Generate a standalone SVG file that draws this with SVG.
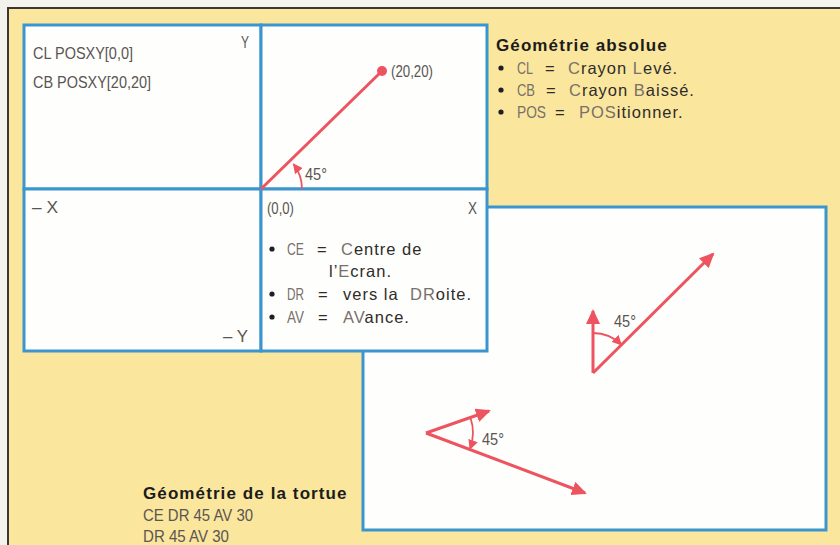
<svg xmlns="http://www.w3.org/2000/svg" width="840" height="545" viewBox="0 0 840 545">
<style>
.box{fill:#fefefc;stroke:#3b96cf;stroke-width:3}
.lbl{font-family:"Liberation Sans",Arial,sans-serif;font-size:16.5px;fill:#5a5552}
.ab{font-family:"Liberation Sans",Arial,sans-serif;font-size:16.5px;fill:#77706b}
.h{font-family:"Liberation Sans",Arial,sans-serif;font-size:17px;font-weight:bold;fill:#1c1c1c;letter-spacing:1.1px}
.b{font-family:"Liberation Sans",Arial,sans-serif;font-size:16.5px;fill:#2e2c2a;letter-spacing:1px}
.lt{fill:#77706b}
.red{stroke:#ed5460;stroke-width:3;fill:none}
.arc{stroke:#ed5460;stroke-width:1.8;fill:none}
.dot{fill:#1e1e24}
</style>
<defs>
<marker id="ah" markerUnits="userSpaceOnUse" markerWidth="16" markerHeight="14" refX="13" refY="7" orient="auto"><path d="M0,0 L15,7 L0,14 Z" fill="#ed5460"/></marker>
<marker id="sh" markerUnits="userSpaceOnUse" markerWidth="11" markerHeight="10" refX="9" refY="5" orient="auto"><path d="M0,0 L10,5 L0,10 Z" fill="#ed5460"/></marker>
</defs>
<rect x="0" y="0" width="840" height="545" fill="#f4f2ec"/>
<rect x="8" y="8" width="832" height="537" fill="#fae69c"/>
<path d="M8,545 L8,8 L840,8" fill="none" stroke="#3a3634" stroke-width="2"/>

<g id="turtle-box"><rect class="box" x="363" y="207" width="463" height="323"/></g>

<g id="q-top-left">
<rect class="box" x="24" y="25" width="237" height="164"/>
<text class="lbl" x="33" y="59" textLength="100" lengthAdjust="spacingAndGlyphs">CL POSXY[0,0]</text>
<text class="lbl" x="33" y="88" textLength="118" lengthAdjust="spacingAndGlyphs">CB POSXY[20,20]</text>
<text class="lbl" x="241" y="48" textLength="8" lengthAdjust="spacingAndGlyphs">Y</text>
</g>
<g id="q-top-right">
<rect class="box" x="261" y="25" width="226" height="164"/>
<text class="lbl" x="391" y="77" textLength="42" lengthAdjust="spacingAndGlyphs">(20,20)</text>
<text class="lbl" x="305" y="180" textLength="22" lengthAdjust="spacingAndGlyphs">45°</text>
</g>
<g id="q-bottom-left">
<rect class="box" x="24" y="189" width="237" height="162"/>
<text class="lbl" x="32" y="213" textLength="26" lengthAdjust="spacingAndGlyphs">– X</text>
<text class="lbl" x="223" y="342" textLength="25" lengthAdjust="spacingAndGlyphs">– Y</text>
</g>
<g id="q-bottom-right">
<rect class="box" x="261" y="189" width="226" height="162"/>
<text class="lbl" x="267" y="214" textLength="27" lengthAdjust="spacingAndGlyphs">(0,0)</text>
<text class="lbl" x="468" y="214" textLength="9" lengthAdjust="spacingAndGlyphs">X</text>
<circle class="dot" cx="272" cy="249" r="2.6"/>
<circle class="dot" cx="272" cy="294" r="2.6"/>
<circle class="dot" cx="272" cy="317" r="2.6"/>
<text class="ab" x="287" y="255" textLength="17" lengthAdjust="spacingAndGlyphs">CE</text>
<text class="b" y="255"><tspan x="317">=</tspan><tspan class="lt" x="341">C</tspan><tspan>entre de</tspan></text>
<text class="b" y="277"><tspan x="329">l’</tspan><tspan class="lt">E</tspan><tspan>cran.</tspan></text>
<text class="ab" x="287" y="300" textLength="17" lengthAdjust="spacingAndGlyphs">DR</text>
<text class="b" y="300"><tspan x="318">=</tspan><tspan x="343">vers la</tspan><tspan class="lt" x="410">DR</tspan><tspan>oite.</tspan></text>
<text class="ab" x="287" y="323" textLength="17" lengthAdjust="spacingAndGlyphs">AV</text>
<text class="b" y="323"><tspan x="318">=</tspan><tspan class="lt" x="343">AV</tspan><tspan>ance.</tspan></text>
</g>

<g id="legend-absolue">
<text class="h" x="496" y="51">Géométrie absolue</text>
<circle class="dot" cx="501" cy="68" r="2.6"/>
<circle class="dot" cx="501" cy="90" r="2.6"/>
<circle class="dot" cx="501" cy="112" r="2.6"/>
<text class="ab" x="517" y="74" textLength="16" lengthAdjust="spacingAndGlyphs">CL</text>
<text class="b" y="74"><tspan x="545">=</tspan><tspan class="lt" x="568">C</tspan><tspan>rayon </tspan><tspan class="lt">L</tspan><tspan>evé.</tspan></text>
<text class="ab" x="517" y="96" textLength="18" lengthAdjust="spacingAndGlyphs">CB</text>
<text class="b" y="96"><tspan x="546">=</tspan><tspan class="lt" x="569">C</tspan><tspan>rayon </tspan><tspan class="lt">B</tspan><tspan>aissé.</tspan></text>
<text class="ab" x="517" y="118" textLength="29" lengthAdjust="spacingAndGlyphs">POS</text>
<text class="b" y="118"><tspan x="555">=</tspan><tspan class="lt" x="579">POS</tspan><tspan>itionner.</tspan></text>
</g>

<g id="legend-tortue">
<text class="h" x="143" y="499">Géométrie de la tortue</text>
<text class="lbl" x="143" y="521" textLength="110" lengthAdjust="spacingAndGlyphs">CE DR 45 AV 30</text>
<text class="lbl" x="143" y="542" textLength="86" lengthAdjust="spacingAndGlyphs">DR 45 AV 30</text>
</g>

<g id="turtle-labels">
<text class="lbl" x="614" y="327" textLength="22" lengthAdjust="spacingAndGlyphs">45°</text>
<text class="lbl" x="482" y="445" textLength="22" lengthAdjust="spacingAndGlyphs">45°</text>
</g>

<g id="connectors">
<line class="red" x1="261" y1="189" x2="382" y2="71"/>
<circle cx="382" cy="71" r="5" fill="#ed5460"/>
<path class="arc" d="M302,189 A41,41 0 0 0 293.5,164" marker-end="url(#sh)"/>
<line class="red" x1="593" y1="373" x2="593" y2="311" marker-end="url(#ah)"/>
<line class="red" x1="593" y1="373" x2="713" y2="254" marker-end="url(#ah)"/>
<path class="arc" d="M593,333 A40,40 0 0 1 621.3,344.7" marker-end="url(#sh)"/>
<line class="red" x1="426" y1="433" x2="489" y2="411" marker-end="url(#ah)"/>
<line class="red" x1="426" y1="433" x2="585" y2="493" marker-end="url(#ah)"/>
<path class="arc" d="M470.4,417.5 A47,47 0 0 1 470,449" marker-end="url(#sh)"/>
</g>
</svg>
